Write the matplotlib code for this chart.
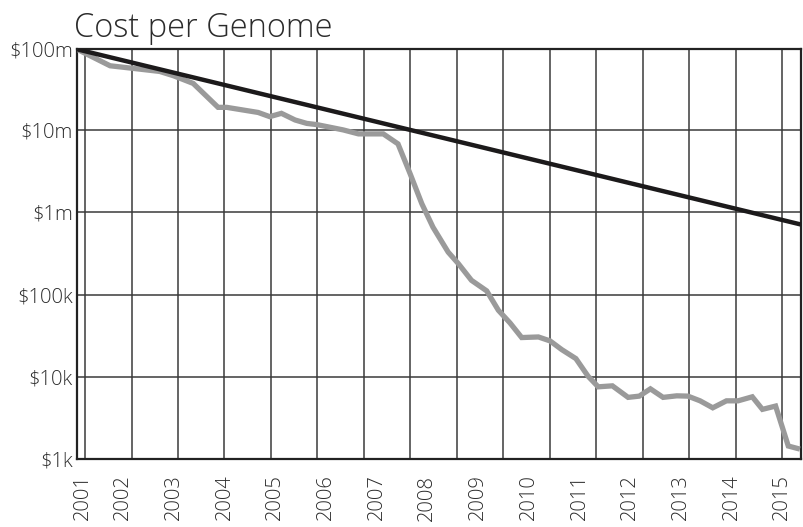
import matplotlib
matplotlib.use("Agg")
import matplotlib.pyplot as plt
from matplotlib.ticker import FixedLocator, NullFormatter

plt.rcParams['font.family'] = ['Open Sans', 'DejaVu Sans']

# Sequencing cost per genome (USD), sampled over time (fractional years)
cost_years = [2001.09, 2001.74, 2002.13, 2002.72, 2002.99, 2003.38, 2003.87, 2004.04,
              2004.66, 2004.89, 2005.12, 2005.39, 2005.62, 2005.82, 2006.34, 2006.64,
              2007.13, 2007.42, 2007.66, 2007.89, 2008.11, 2008.41, 2008.61, 2008.87,
              2009.17, 2009.40, 2009.63, 2009.86, 2010.19, 2010.42, 2010.65, 2010.93,
              2011.17, 2011.37, 2011.65, 2011.96, 2012.18, 2012.40, 2012.65, 2012.92,
              2013.14, 2013.38, 2013.63, 2013.90, 2014.13, 2014.41, 2014.61, 2014.87,
              2015.12, 2015.35]
cost_values = [95.3e6, 60.1e6, 56.5e6, 51.3e6, 45.5e6, 36.7e6, 18.8e6, 18.8e6,
               16.3e6, 14.5e6, 15.9e6, 13.2e6, 12.0e6, 11.6e6, 10.0e6, 8.95e6,
               8.95e6, 6.77e6, 2.93e6, 1.27e6, 659e3, 328e3, 238e3, 149e3,
               111e3, 64.6e3, 45.3e3, 30.1e3, 30.6e3, 27.4e3, 21.5e3, 16.7e3,
               10.2e3, 7.59e3, 7.80e3, 5.65e3, 5.85e3, 7.17e3, 5.65e3, 5.90e3,
               5.85e3, 5.13e3, 4.22e3, 5.13e3, 5.13e3, 5.74e3, 4.04e3, 4.43e3,
               1.45e3, 1.33e3]

# Moore's law reference line (start and end of the period)
moore_years = [2001.09, 2015.37]
moore_values = [95.3e6, 0.71e6]

# Axis labels
year_labels = ['2001', '2002', '2003', '2004', '2005', '2006', '2007', '2008',
               '2009', '2010', '2011', '2012', '2013', '2014', '2015']
year_label_pos = [2001.20, 2002, 2003, 2004, 2005, 2006, 2007, 2008,
                  2009, 2010, 2011, 2012, 2013, 2014, 2015]
grid_years = [2001.245, 2002.166, 2003.085, 2003.992, 2004.907, 2005.826,
              2006.741, 2007.661, 2008.576, 2009.495, 2010.416, 2011.323,
              2012.244, 2013.158, 2014.079, 2014.987]
y_ticks = [1e3, 1e4, 1e5, 1e6, 1e7, 95.3e6]
y_labels = ['$1k', '$10k', '$100k', '$1m', '$10m', '$100m']

text_color = '#2b2b2b'
grid_color = '#3a3a3a'

fig = plt.figure(figsize=(8.04, 5.27), dpi=100)
ax = fig.add_axes([77 / 804, 1 - 459.3 / 527, (801 - 77) / 804, (459.3 - 49.3) / 527])

ax.set_yscale('log')
ax.set_xlim(2001.087, 2015.371)
ax.set_ylim(1e3, 95.3e6)

ax.plot(cost_years, cost_values, color='#9a9a9a', lw=3.8, solid_joinstyle='miter',
        solid_capstyle='butt', zorder=3)
ax.plot(moore_years, moore_values, color='#1c1a1b', lw=3.2, solid_capstyle='butt', zorder=4)

# Gridlines
ax.xaxis.set_minor_locator(FixedLocator(grid_years))
ax.xaxis.set_minor_formatter(NullFormatter())
ax.grid(which='minor', axis='x', color=grid_color, lw=1.1)
ax.set_xticks(year_label_pos)
ax.set_xticklabels(year_labels, rotation=90, va='top', ha='center')
ax.set_yticks(y_ticks)
ax.yaxis.set_minor_locator(FixedLocator([]))
ax.set_yticklabels(y_labels)
ax.grid(which='major', axis='y', color=grid_color, lw=1.1)
ax.set_axisbelow(True)

ax.tick_params(axis='both', which='both', length=0, colors=text_color, labelsize=14.5)
ax.tick_params(axis='x', pad=11)
ax.tick_params(axis='y', pad=3)
for lbl in ax.get_xticklabels() + ax.get_yticklabels():
    lbl.set_fontweight('light')

for side in ['left', 'bottom', 'top', 'right']:
    ax.spines[side].set_color('#222222')
    ax.spines[side].set_linewidth(1.6)

fig.text(74 / 804, 1 - 37 / 527, 'Cost per Genome', fontsize=23.5, color=text_color,
         ha='left', va='baseline', fontweight='light')

fig.savefig('out.png', dpi=100, facecolor='white')
